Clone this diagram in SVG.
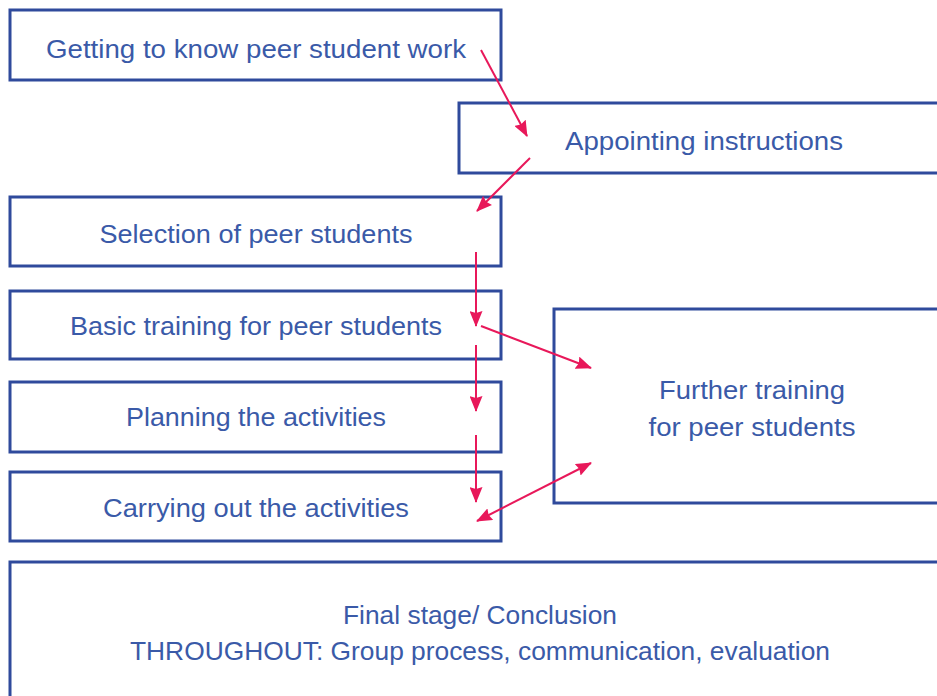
<svg xmlns="http://www.w3.org/2000/svg" width="937" height="696" viewBox="0 0 937 696">
  <defs>
    <marker id="arrow" viewBox="0 0 16 13" refX="15" refY="6.5" markerWidth="16" markerHeight="13" orient="auto-start-reverse" markerUnits="userSpaceOnUse">
      <path d="M0,0 L16,6.5 L0,13 L2,6.5 z" fill="#e8185a"/>
    </marker>
    <style>
      .box { fill: #ffffff; stroke: #2f4a9c; stroke-width: 3; }
      .label { font-family: "Liberation Sans", Arial, sans-serif; font-size: 26px; fill: #3a5aa8; text-anchor: middle; }
      .link { stroke: #e8185a; stroke-width: 2; fill: none; }
    </style>
  </defs>
  <rect width="937" height="696" fill="#ffffff"/>

  <g id="node-getting-to-know">
    <rect class="box" x="10" y="10" width="491" height="70"/>
    <text class="label" x="256" y="58" textLength="420" lengthAdjust="spacingAndGlyphs">Getting to know peer student work</text>
  </g>
  <g id="node-appointing">
    <rect class="box" x="459" y="103" width="490" height="70"/>
    <text class="label" x="704" y="150" textLength="278" lengthAdjust="spacingAndGlyphs">Appointing instructions</text>
  </g>
  <g id="node-selection">
    <rect class="box" x="10" y="197" width="491" height="69"/>
    <text class="label" x="256" y="243" textLength="313" lengthAdjust="spacingAndGlyphs">Selection of peer students</text>
  </g>
  <g id="node-basic-training">
    <rect class="box" x="10" y="291" width="491" height="68"/>
    <text class="label" x="256" y="335" textLength="372" lengthAdjust="spacingAndGlyphs">Basic training for peer students</text>
  </g>
  <g id="node-planning">
    <rect class="box" x="10" y="382" width="491" height="70"/>
    <text class="label" x="256" y="426" textLength="260" lengthAdjust="spacingAndGlyphs">Planning the activities</text>
  </g>
  <g id="node-carrying-out">
    <rect class="box" x="10" y="472" width="491" height="69"/>
    <text class="label" x="256" y="517" textLength="306" lengthAdjust="spacingAndGlyphs">Carrying out the activities</text>
  </g>
  <g id="node-further-training">
    <rect class="box" x="554" y="309" width="395" height="194"/>
    <text class="label" x="752" y="399" textLength="186" lengthAdjust="spacingAndGlyphs">Further training</text>
    <text class="label" x="752" y="436" textLength="207" lengthAdjust="spacingAndGlyphs">for peer students</text>
  </g>
  <g id="node-final-stage">
    <rect class="box" x="10" y="562" width="940" height="150"/>
    <text class="label" x="480" y="624" textLength="274" lengthAdjust="spacingAndGlyphs">Final stage/ Conclusion</text>
    <text class="label" x="480" y="660" textLength="700" lengthAdjust="spacingAndGlyphs">THROUGHOUT: Group process, communication, evaluation</text>
  </g>

  <g id="connectors">
    <line class="link" x1="481" y1="50" x2="527" y2="136" marker-end="url(#arrow)"/>
    <line class="link" x1="530" y1="158" x2="477" y2="211" marker-end="url(#arrow)"/>
    <line class="link" x1="476" y1="252" x2="476" y2="326" marker-end="url(#arrow)"/>
    <line class="link" x1="481" y1="326" x2="591" y2="368" marker-end="url(#arrow)"/>
    <line class="link" x1="476" y1="345" x2="476" y2="411" marker-end="url(#arrow)"/>
    <line class="link" x1="476" y1="435" x2="476" y2="502" marker-end="url(#arrow)"/>
    <line class="link" x1="477" y1="521" x2="591" y2="463" marker-start="url(#arrow)" marker-end="url(#arrow)"/>
  </g>
</svg>
